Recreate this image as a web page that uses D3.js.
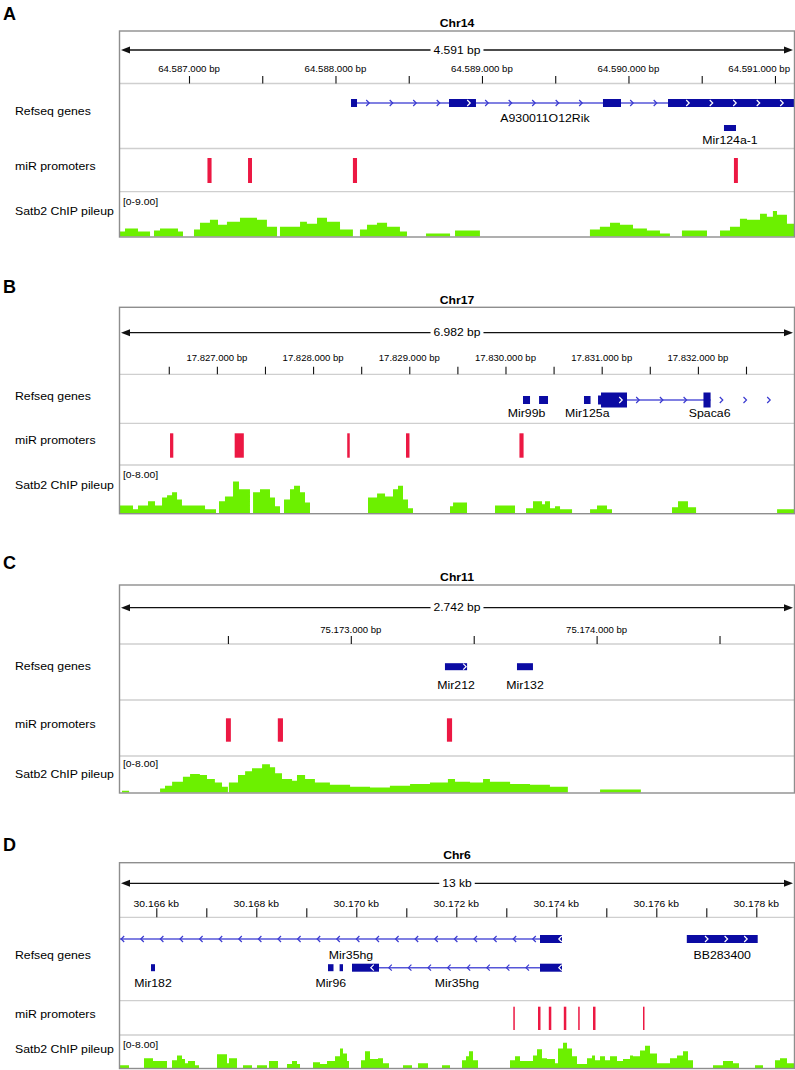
<!DOCTYPE html>
<html><head><meta charset="utf-8">
<script src="https://cdn.jsdelivr.net/npm/d3@7"></script>
<style>body{margin:0;background:#fff}svg{display:block}</style>
</head><body><svg id="c" width="795" height="1070"></svg>
<script>
// ---------------- DATA ----------------
const panelLetters = ["A", "B", "C", "D"];
const chromosomes = ["Chr14", "Chr17", "Chr11", "Chr6"];
const spanLabels = ["4.591 bp", "6.982 bp", "2.742 bp", "13 kb"];
const viewStart = [64586529, 17825993, 75172061, 30165274];
const viewEnd = [64591130, 17832999, 75174803, 30178754];
const rangeMax = [9, 8, 8, 8];
const rangeLabels = ["[0-9.00]", "[0-8.00]", "[0-8.00]", "[0-8.00]"];
const trackNames = ["Refseq genes", "miR promoters", "Satb2 ChIP pileup"];

const ticksA = [64587000, 64587500, 64588000, 64588500, 64589000, 64589500, 64590000, 64590500, 64591000];
const tickLabelsA = ["64.587.000 bp", "", "64.588.000 bp", "", "64.589.000 bp", "", "64.590.000 bp", "", "64.591.000 bp"];
const ticksB = [17826500, 17827000, 17827500, 17828000, 17828500, 17829000, 17829500, 17830000, 17830500, 17831000, 17831500, 17832000, 17832500];
const tickLabelsB = ["", "17.827.000 bp", "", "17.828.000 bp", "", "17.829.000 bp", "", "17.830.000 bp", "", "17.831.000 bp", "", "17.832.000 bp", ""];
const ticksC = [75172500, 75173000, 75173500, 75174000, 75174500];
const tickLabelsC = ["", "75.173.000 bp", "", "75.174.000 bp", ""];
const ticksD = [30166000, 30167000, 30168000, 30169000, 30170000, 30171000, 30172000, 30173000, 30174000, 30175000, 30176000, 30177000, 30178000];
const tickLabelsD = ["30.166 kb", "", "30.168 kb", "", "30.170 kb", "", "30.172 kb", "", "30.174 kb", "", "30.176 kb", "", "30.178 kb"];

// genes: exons [start, end, kind]
const genesA = [
  { name: "A930011O12Rik", start: 64588106, end: 64591600, strand: "+", row: 0, labelAt: 64589430,
    exons: [[64588106, 64588147, "cds"], [64588775, 64588959, "cds"], [64589826, 64589949, "cds"], [64590270, 64591600, "cds"]] },
  { name: "Mir124a-1", start: 64590652, end: 64590734, strand: "+", row: 1, exons: [[64590652, 64590734, "nc"]] }
];
const genesB = [
  { name: "Mir99b", start: 17830182, end: 17830255, strand: "+", row: 0, exons: [[17830182, 17830255, "nc"]] },
  { name: "", start: 17830349, end: 17830442, strand: "+", row: 0, exons: [[17830349, 17830442, "nc"]] },
  { name: "Mir125a", start: 17830816, end: 17830884, strand: "+", row: 0, exons: [[17830816, 17830884, "nc"]] },
  { name: "Spaca6", start: 17830962, end: 17832854, lineEnd: 17832132, strand: "+", row: 0, labelAt: 17832122,
    exons: [[17830962, 17830993, "utr"], [17830993, 17831263, "cds"], [17832058, 17832132, "cds"]] }
];
const genesC = [
  { name: "Mir212", start: 75173383, end: 75173473, strand: "+", row: 0, exons: [[75173383, 75173473, "nc"]] },
  { name: "Mir132", start: 75173676, end: 75173741, strand: "+", row: 0, exons: [[75173676, 75173741, "nc"]] }
];
const genesD = [
  { name: "Mir35hg", start: 30164710, end: 30174114, strand: "-", row: 0, labelAt: 30169894,
    exons: [[30173674, 30174114, "cds"]] },
  { name: "BB283400", start: 30176610, end: 30178028, strand: "+", row: 0, exons: [[30176610, 30178028, "cds"]] },
  { name: "Mir182", start: 30165894, end: 30165974, strand: "-", row: 1, exons: [[30165894, 30165974, "nc"]] },
  { name: "Mir96", start: 30169434, end: 30169544, strand: "-", row: 1, exons: [[30169434, 30169544, "nc"]] },
  { name: "", start: 30169666, end: 30169734, strand: "-", row: 1, exons: [[30169666, 30169734, "nc"]] },
  { name: "Mir35hg", start: 30169914, end: 30174114, strand: "-", row: 1,
    exons: [[30169914, 30170454, "cds"], [30173674, 30174114, "cds"]] }
];

// miR promoter intervals [start, end]
const promotersA = [[64587126, 64587154], [64587403, 64587430], [64588119, 64588147], [64590720, 64590747]];
const promotersB = [[17826513, 17826547], [17827185, 17827280], [17828355, 17828381], [17828966, 17829002], [17830145, 17830188]];
const promotersC = [[75172492, 75172512], [75172703, 75172724], [75173391, 75173412]];
const promotersD = [[30173140, 30173170], [30173634, 30173684], [30173850, 30173900], [30174150, 30174200], [30174438, 30174468], [30174734, 30174784], [30175734, 30175764]];

// Satb2 ChIP pileup: step positions (bp) and values (read count)
const chipA_pos = [64586529, 64586563, 64586652, 64586734, 64586761, 64586802, 64586925, 64586959, 64587034, 64587075, 64587143, 64587198, 64587259, 64587348, 64587464, 64587532, 64587601, 64587621, 64587758, 64587805, 64587874, 64587942, 64588031, 64588119, 64588167, 64588215, 64588283, 64588352, 64588440, 64588488, 64588618, 64588782, 64588816, 64588986, 64589737, 64589805, 64589874, 64589942, 64590031, 64590126, 64590215, 64590283, 64590365, 64590536, 64590625, 64590693, 64590761, 64590809, 64590898, 64590945, 64590986, 64591014, 64591082, 64591130];
const chipA_val = [1.0, 1.6, 1.0, 0, 1.2, 1.6, 1.0, 0, 1.4, 2.8, 3.4, 2.4, 3.0, 3.8, 3.4, 2.0, 0, 2.0, 3.0, 2.6, 3.8, 3.0, 1.4, 0, 1.4, 2.4, 2.8, 2.0, 1.0, 0, 0.6, 0, 1.2, 0, 1.4, 2.0, 2.8, 2.4, 1.6, 1.2, 0.6, 0, 1.2, 0, 1.2, 2.0, 3.6, 3.4, 4.6, 4.0, 5.2, 4.4, 2.6];

const chipB_pos = [17825993, 17826128, 17826180, 17826284, 17826357, 17826430, 17826482, 17826534, 17826586, 17826637, 17826877, 17826991, 17827022, 17827084, 17827168, 17827230, 17827344, 17827376, 17827448, 17827552, 17827604, 17827656, 17827698, 17827760, 17827802, 17827864, 17827916, 17827968, 17828571, 17828665, 17828748, 17828831, 17828883, 17828935, 17828987, 17829039, 17829423, 17829455, 17829600, 17829891, 17830099, 17830213, 17830286, 17830380, 17830411, 17830463, 17830515, 17830567, 17830692, 17830879, 17830951, 17831055, 17831107, 17831731, 17831793, 17831897, 17831981, 17832823, 17832999];
const chipB_val = [1.3, 0.66, 1.3, 2.0, 1.3, 2.65, 3.0, 3.5, 2.3, 1.3, 0.66, 0, 2.0, 2.8, 5.3, 4.0, 0, 3.5, 4.0, 2.65, 1.16, 0, 2.3, 4.0, 4.6, 3.5, 1.8, 0, 2.65, 3.3, 2.8, 4.0, 4.6, 2.3, 0.83, 0, 1.16, 1.8, 0, 1.3, 0, 0.83, 2.0, 1.5, 2.0, 0.83, 1.16, 0.66, 0, 0.66, 1.3, 0.66, 0, 1.0, 2.0, 1.0, 0, 0.66];

const chipC_pos = [75172061, 75172069, 75172098, 75172224, 75172244, 75172273, 75172317, 75172346, 75172386, 75172415, 75172447, 75172476, 75172500, 75172504, 75172541, 75172570, 75172598, 75172639, 75172671, 75172692, 75172720, 75172761, 75172781, 75172814, 75172854, 75172915, 75172997, 75173078, 75173159, 75173241, 75173322, 75173395, 75173424, 75173485, 75173538, 75173566, 75173648, 75173729, 75173810, 75173883, 75174014, 75174180, 75174803];
const chipC_val = [0, 0.4, 0, 0.9, 1.5, 2.4, 3.5, 4.1, 3.9, 3.0, 2.2, 1.3, 0, 2.2, 3.9, 4.75, 5.4, 6.3, 5.6, 4.3, 3.0, 2.6, 3.9, 3.0, 2.2, 1.7, 1.3, 1.1, 1.5, 1.9, 2.2, 3.0, 2.4, 2.2, 3.0, 2.4, 1.9, 1.7, 1.3, 0, 0.65, 0];

const chipD_pos = [30165274, 30165454, 30165754, 30165934, 30166214, 30166314, 30166414, 30166514, 30166574, 30166634, 30166774, 30166854, 30167214, 30167414, 30167454, 30167614, 30167734, 30167914, 30168014, 30168214, 30168254, 30168434, 30168614, 30168714, 30168814, 30168874, 30169134, 30169274, 30169414, 30169574, 30169674, 30169734, 30169814, 30169854, 30170094, 30170174, 30170274, 30170434, 30170534, 30170654, 30170934, 30171114, 30171234, 30171434, 30171714, 30171874, 30172114, 30172194, 30172254, 30172334, 30172434, 30173074, 30173174, 30173274, 30173534, 30173614, 30173714, 30173814, 30173974, 30174034, 30174134, 30174214, 30174314, 30174414, 30174614, 30174714, 30174774, 30174874, 30174974, 30175074, 30175214, 30175334, 30175474, 30175534, 30175674, 30175774, 30175874, 30176014, 30176274, 30176414, 30176534, 30176634, 30176734, 30177134, 30177334, 30177534, 30177654, 30177974, 30178134, 30178374, 30178474, 30178614, 30178754];
const chipD_val = [0.7, 0, 2.4, 1.7, 0, 1.9, 3.1, 2.2, 1.2, 1.7, 0.7, 0, 3.4, 1.2, 2.4, 0, 0.7, 0, 0.7, 0, 1.7, 0, 1.0, 1.7, 1.0, 0, 1.4, 1.0, 1.7, 2.9, 4.8, 3.6, 1.7, 0, 1.9, 4.1, 2.2, 2.4, 1.2, 0, 0.7, 0, 1.2, 0, 0.7, 0, 1.9, 2.9, 4.1, 1.9, 0, 1.9, 2.9, 1.7, 3.1, 4.6, 2.4, 2.2, 1.2, 4.8, 6.2, 4.8, 2.9, 1.0, 2.4, 3.1, 1.9, 2.9, 1.9, 2.9, 1.7, 2.2, 3.1, 2.9, 4.3, 5.5, 3.6, 1.2, 2.4, 3.1, 4.1, 1.9, 0, 0.7, 1.7, 1.2, 0, 0.7, 0, 1.9, 2.4, 1.2];

// ---------------- LAYOUT / STYLE ----------------
const FONT = "'Liberation Sans', Arial, Helvetica, sans-serif";
const SX = 1.15;
const X0 = 120, X1 = 794;
const COL = { exon: "#0b0ba3", line: "#5656d8", chev: "#3a3ad0", prom: "#ec1843", chip: "#6cf000", box: "#8e8e8e", sep: "#cfcfcf" };

const layouts = [
  { letterY: 13.5, titleY: 23.3, boxTop: 31, arrowY: 50, tickLabelY: 69.3, tickTop: 76, tickFont: 8.4, rulerBottom: 83.5,
    geneBottom: 148.5, promBottom: 191.7, boxBottom: 237, rows: [103, 128], rowLabels: [118.3, 140],
    refLabelY: 111, promLabelY: 166, chipLabelY: 210.7, rangeY: 201.3, barTop: 158, barBottom: 183,
    exonH: { cds: 8, utr: 6, nc: 6 }, chev: 23.5 },
  { letterY: 286.7, titleY: 300, boxTop: 307.3, arrowY: 332.7, tickLabelY: 358.3, tickTop: 366.7, tickFont: 8.3, rulerBottom: 374.3,
    geneBottom: 423.3, promBottom: 465, boxBottom: 513.7, rows: [400], rowLabels: [413.3],
    refLabelY: 396, promLabelY: 440, chipLabelY: 485, rangeY: 475, barTop: 433.3, barBottom: 457.7,
    exonH: { cds: 15, utr: 9, nc: 8 }, chev: 23.7 },
  { letterY: 563, titleY: 576.7, boxTop: 585, arrowY: 607.7, tickLabelY: 630, tickTop: 636, tickFont: 8.3, rulerBottom: 644,
    geneBottom: 700, promBottom: 756, boxBottom: 793, rows: [666.7], rowLabels: [685],
    refLabelY: 666, promLabelY: 724.3, chipLabelY: 774, rangeY: 763.3, barTop: 718.3, barBottom: 741.7,
    exonH: { cds: 8, utr: 6, nc: 7 }, chev: 23.5 },
  { letterY: 845, titleY: 855, boxTop: 862.7, arrowY: 883.3, tickLabelY: 903.3, tickTop: 908.3, tickFont: 9.0, rulerBottom: 917.3,
    geneBottom: 1000.7, promBottom: 1035, boxBottom: 1068.5, rows: [939, 967.7], rowLabels: [955, 983.3],
    refLabelY: 955, promLabelY: 1014.3, chipLabelY: 1049.5, rangeY: 1045, barTop: 1006.7, barBottom: 1030,
    exonH: { cds: 8, utr: 6, nc: 7 }, chev: 19.6 }
];

const panels = [
  { ticks: ticksA, tickLabels: tickLabelsA, genes: genesA, proms: promotersA, pos: chipA_pos, val: chipA_val },
  { ticks: ticksB, tickLabels: tickLabelsB, genes: genesB, proms: promotersB, pos: chipB_pos, val: chipB_val },
  { ticks: ticksC, tickLabels: tickLabelsC, genes: genesC, proms: promotersC, pos: chipC_pos, val: chipC_val },
  { ticks: ticksD, tickLabels: tickLabelsD, genes: genesD, proms: promotersD, pos: chipD_pos, val: chipD_val }
];

// ---------------- DRAW ----------------
const svg = d3.select("#c");
svg.append("rect").attr("width", 795).attr("height", 1070).attr("fill", "#fff");

function txt(g, x, yCenter, s, o = {}) {
  const size = o.size || 10.7;
  return g.append("text")
    .attr("transform", `translate(${x},${yCenter + 0.36 * size}) scale(${o.sx ?? SX},1)`)
    .attr("text-anchor", o.anchor || "start")
    .attr("font-family", FONT)
    .attr("font-size", size)
    .attr("font-weight", o.weight || "normal")
    .attr("fill", o.fill || "#000")
    .text(s);
}

function chevron(g, p, y, strand, color) {
  const d = strand === "+" ? `M${p - 1.8},${y - 3} L${p + 1.2},${y} L${p - 1.8},${y + 3}`
                           : `M${p + 1.8},${y - 3} L${p - 1.2},${y} L${p + 1.8},${y + 3}`;
  g.append("path").attr("d", d).attr("fill", "none").attr("stroke", color).attr("stroke-width", 1.2);
}

panels.forEach((P, i) => {
  const L = layouts[i];
  const x = d3.scaleLinear().domain([viewStart[i], viewEnd[i]]).range([X0, X1]);
  const g = svg.append("g");

  // panel letter & chromosome title
  txt(g, 3, L.letterY, panelLetters[i], { size: 18, weight: "bold", sx: 1 });
  txt(g, (X0 + X1) / 2, L.titleY, chromosomes[i], { size: 10.6, weight: "bold", anchor: "middle" });

  // separators
  [L.rulerBottom, L.geneBottom, L.promBottom].forEach(yy => {
    g.append("line").attr("x1", X0).attr("x2", X1).attr("y1", yy).attr("y2", yy)
      .attr("stroke", COL.sep).attr("stroke-width", 1.3);
  });

  // span arrow
  const ay = L.arrowY;
  g.append("line").attr("x1", 124).attr("x2", 790).attr("y1", ay).attr("y2", ay).attr("stroke", "#111").attr("stroke-width", 1.3);
  g.append("path").attr("d", `M121,${ay} L130,${ay - 3.5} L130,${ay + 3.5} Z`).attr("fill", "#111");
  g.append("path").attr("d", `M793,${ay} L784,${ay - 3.5} L784,${ay + 3.5} Z`).attr("fill", "#111");
  const sl = txt(g, (X0 + X1) / 2, ay, spanLabels[i], { size: 10.5, anchor: "middle" });
  const sw = sl.node().getComputedTextLength() * SX;
  g.insert("rect", "text:last-of-type").attr("x", (X0 + X1) / 2 - sw / 2 - 3).attr("y", ay - 4)
    .attr("width", sw + 6).attr("height", 8).attr("fill", "#fff");
  sl.raise();

  // ruler ticks via d3 axis
  const axis = d3.axisTop(x).tickValues(P.ticks).tickSize(L.rulerBottom - L.tickTop).tickSizeOuter(0).tickFormat("");
  const ag = g.append("g").attr("transform", `translate(0,${L.rulerBottom})`).call(axis);
  ag.select(".domain").remove();
  ag.selectAll(".tick line").attr("stroke", "#111").attr("stroke-width", 1.1);
  P.ticks.forEach((t, k) => {
    const lab = P.tickLabels[k];
    if (!lab) return;
    const tn = txt(g, x(t), L.tickLabelY, lab, { size: L.tickFont, anchor: "middle" });
    const w = tn.node().getComputedTextLength() * SX;
    let cx = x(t);
    if (cx + w / 2 > 790) cx = 790 - w / 2;
    tn.attr("transform", `translate(${cx},${L.tickLabelY + 0.36 * L.tickFont}) scale(${SX},1)`);
  });

  // track names
  txt(g, 15, L.refLabelY, trackNames[0]);
  txt(g, 15, L.promLabelY, trackNames[1]);
  txt(g, 15, L.chipLabelY, trackNames[2]);

  // clip for data area
  const cid = "clip" + i;
  svg.append("clipPath").attr("id", cid).append("rect")
    .attr("x", X0).attr("y", L.boxTop).attr("width", X1 - X0).attr("height", L.boxBottom - L.boxTop);
  const dg = g.append("g").attr("clip-path", `url(#${cid})`);

  // genes
  P.genes.forEach(gene => {
    const y = L.rows[gene.row];
    const s = x(gene.start), e = x(gene.end), le = x(gene.lineEnd ?? gene.end);
    const ex = gene.exons.map(d => [x(d[0]), x(d[1]), d[2]]).sort((a, b) => a[0] - b[0]);
    if (le - s > 0 && gene.exons.length && !(ex.length === 1 && ex[0][0] <= s + 0.5 && ex[0][1] >= e - 0.5)) {
      dg.append("line").attr("x1", s).attr("x2", le).attr("y1", y).attr("y2", y)
        .attr("stroke", COL.line).attr("stroke-width", 1.6);
    }
    // intron chevrons
    const gaps = [];
    let cur = s;
    ex.forEach(d => { if (d[0] > cur + 0.5) gaps.push([cur, d[0]]); cur = Math.max(cur, d[1]); });
    if (cur < e - 0.5) gaps.push([cur, e]);
    gaps.forEach(gp => {
      for (let p = gp[0] + 11; p < gp[1] - 5; p += L.chev) chevron(dg, p, y, gene.strand, COL.chev);
    });
    // exons
    ex.forEach(d => {
      const h = L.exonH[d[2]];
      dg.append("rect").attr("x", d[0]).attr("y", y - h / 2).attr("width", Math.max(1, d[1] - d[0])).attr("height", h)
        .attr("fill", COL.exon);
      for (let p = d[0] + 20; p < d[1] - 1; p += L.chev) chevron(dg, p, y, gene.strand, "#fff");
    });
    if (gene.name) {
      const lx = gene.labelAt !== undefined ? x(gene.labelAt) : (s + e) / 2;
      txt(g, lx, L.rowLabels[gene.row], gene.name, { anchor: "middle" });
    }
  });

  // promoters
  dg.selectAll(null).data(P.proms).join("rect")
    .attr("x", d => x(d[0])).attr("width", d => Math.max(1.2, x(d[1]) - x(d[0])))
    .attr("y", L.barTop).attr("height", L.barBottom - L.barTop).attr("fill", COL.prom);

  // ChIP pileup
  const y = d3.scaleLinear().domain([0, rangeMax[i]]).range([L.boxBottom - 0.5, L.promBottom + 0.5]);
  const pts = P.pos.map((p, k) => [p, k < P.val.length ? P.val[k] : (P.val[P.val.length - 1] || 0)]);
  const area = d3.area().x(d => x(d[0])).y0(y(0)).y1(d => y(d[1])).curve(d3.curveStepAfter);
  dg.append("path").datum(pts).attr("d", area).attr("fill", COL.chip);
  txt(g, 123, L.rangeY, rangeLabels[i], { size: 9 });

  // box frame
  g.append("rect").attr("x", 119.5).attr("y", L.boxTop).attr("width", 675).attr("height", L.boxBottom - L.boxTop)
    .attr("fill", "none").attr("stroke", COL.box).attr("stroke-width", 1.4);
});
</script>
</body></html>
